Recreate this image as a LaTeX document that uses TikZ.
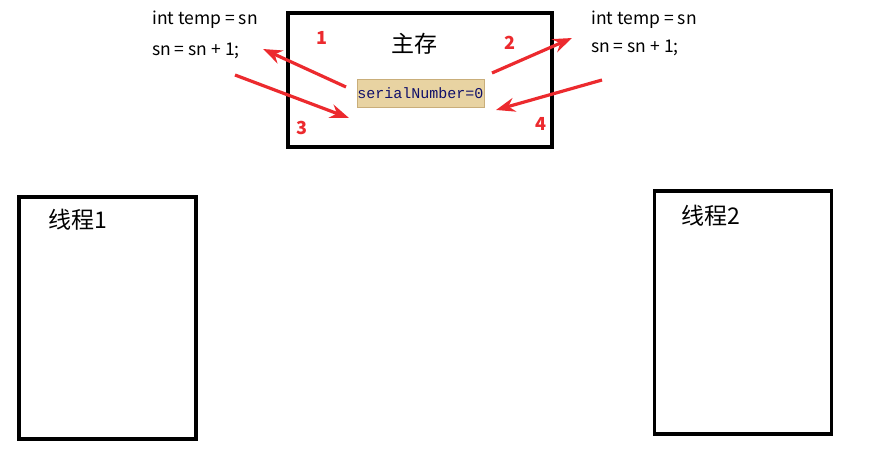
\documentclass[tikz,border=0pt]{standalone}
\usepackage{fontspec}
\setmainfont{Noto Sans CJK SC}
\newfontfamily\codefont{Liberation Mono}
\usetikzlibrary{arrows.meta}
\definecolor{varfill}{HTML}{E8D3A2}
\definecolor{vardraw}{HTML}{C9AE7A}
\definecolor{varink}{HTML}{10106A}
\definecolor{stepred}{HTML}{EC2A2E}

\tikzset{membox/.style = {draw = black,
                          line width = 3.5pt,
                          inner sep = 0pt},
         codetext/.style = {anchor = west,
                            inner sep = 0pt,
                            font = \fontsize{17.5}{19}\selectfont},
         boxlabel/.style = {inner sep = 0pt,
                            font = \fontsize{23}{25}\selectfont},
         stepnum/.style = {text = stepred,
                           inner sep = 0pt,
                           font = \fontsize{18}{20}\selectfont\bfseries},
         steparrow/.style = {draw = stepred,
                             line width = 3.2pt,
                             -{Stealth[length = 19pt, width = 14pt]}}}

\begin{document}
\begin{tikzpicture}[x = 1pt, y = -1pt]
		\useasboundingbox (0,0) rectangle (869,449);
		% boxes
		\node[membox, minimum width = 264pt, minimum height = 134pt] (main) at (420,80) {};
		\node[membox, minimum width = 177pt, minimum height = 242pt] (t1) at (107.5,318) {};
		\node[membox, minimum width = 177pt, minimum height = 243pt] (t2) at (743,312.5) {};
		\node[boxlabel] (mainlbl) at (414,44) {主存};
		\node[boxlabel] (t1lbl) at (78,220) {线程1};
		\node[boxlabel] (t2lbl) at (711,216) {线程2};
		% variable
		\node[draw = vardraw, fill = varfill, text = varink, line width = 0.8pt,
		      minimum width = 127pt, minimum height = 28pt, inner sep = 0pt,
		      font = \codefont\fontsize{15}{17}\selectfont] (var) at (420.5,93) {serialNumber=0};
		% code
		\node[codetext] (c1a) at (152,20) {int temp = sn};
		\node[codetext] (c1b) at (152,51) {sn = sn + 1;};
		\node[codetext] (c2a) at (591,20) {int temp = sn};
		\node[codetext] (c2b) at (591,48) {sn = sn + 1;};
		% steps
		\node[stepnum] (n1) at (322,38) {1};
		\node[stepnum] (n2) at (510,43) {2};
		\node[stepnum] (n3) at (302,128) {3};
		\node[stepnum] (n4) at (541,124) {4};
		\coordinate (a1s) at (346,87);
		\coordinate (a1e) at (263,49);
		\coordinate (a3s) at (235,75);
		\coordinate (a3e) at (349,118);
		\coordinate (a2s) at (492,73);
		\coordinate (a2e) at (572,38);
		\coordinate (a4s) at (602,80);
		\coordinate (a4e) at (496,110);
		\path[steparrow] (a1s) -- (a1e);
		\path[steparrow] (a3s) -- (a3e);
		\path[steparrow] (a2s) -- (a2e);
		\path[steparrow] (a4s) -- (a4e);
	\end{tikzpicture}
\end{document}
